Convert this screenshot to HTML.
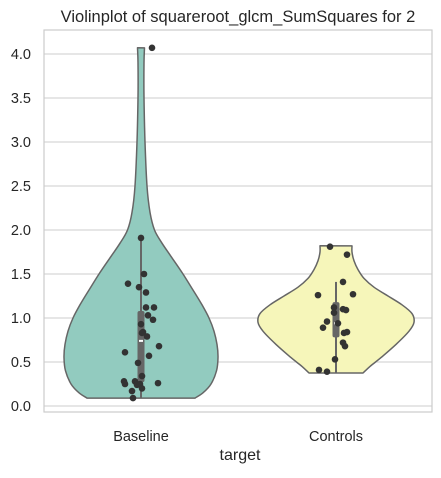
<!DOCTYPE html>
<html><head><meta charset="utf-8"><style>
body{margin:0;background:#fff;font-family:"Liberation Sans",Arial,sans-serif;}
svg text{font-family:"Liberation Sans",Arial,sans-serif;fill:#262626;}
</style></head><body>
<svg id="chart" width="441" height="473" xmlns="http://www.w3.org/2000/svg">
<text x="238" y="22" font-size="16.5" text-anchor="middle">Violinplot of squareroot_glcm_SumSquares for 2</text>
<g id="grid"></g>
<rect x="44" y="30" width="388" height="382" fill="none" stroke="#cccccc" stroke-width="1.2"/>
<g id="marks"></g>
<text x="240" y="460" font-size="16" text-anchor="middle">target</text>
</svg>
<script>
const categories=["Baseline","Controls"];
const yTicks=[0,0.5,1,1.5,2,2.5,3,3.5,4];
const yTickLabels=["0.0","0.5","1.0","1.5","2.0","2.5","3.0","3.5","4.0"];
const fills=["#92cbbf","#f6f6ba"];
// violin outline: [value, half-width in density units]
const baselineDensity=[[0.09,54],[0.15,62],[0.25,70],[0.4,75.5],[0.55,77],[0.7,76],[0.85,73],[1.0,68],[1.15,61],[1.3,53],[1.5,42],[1.7,30],[1.85,21],[2.0,13.5],[2.2,9],[2.5,6],[3.0,4],[3.5,3],[3.9,3],[4.07,3.5]];
const controlsDensity=[[0.375,27],[0.45,34],[0.55,45],[0.7,60],[0.85,73],[0.95,78],[1.05,76],[1.15,66],[1.25,52],[1.35,38],[1.45,28],[1.55,22],[1.65,18],[1.75,16],[1.82,16]];
const baselinePoints=[[4.07,11],[1.91,0],[1.5,3],[1.39,-13],[1.35,-2],[1.29,5],[1.12,5],[1.12,13],[1.03,7],[0.98,12],[0.93,0],[0.84,2],[0.83,1],[0.79,6],[0.68,18],[0.61,-16],[0.57,8],[0.49,-3],[0.34,1],[0.28,-17],[0.25,-16],[0.28,-6],[0.24,-4],[0.25,-1],[0.2,1],[0.26,17],[0.17,-9],[0.09,-8]];
const controlsPoints=[[1.81,-6],[1.72,11],[1.41,7],[1.26,-18],[1.27,17],[1.12,-2],[1.1,7],[1.09,10],[1.06,-2],[0.96,-9],[0.94,2],[0.89,-13],[0.84,11],[0.83,8],[0.72,7],[0.68,9],[0.53,-1],[0.41,-17],[0.39,-9]];
const baselineBox=[0.09,0.27,0.74,1.08,1.91];
const controlsBox=[0.375,0.78,0.94,1.18,1.41];
const densities=[baselineDensity,controlsDensity];
const points=[baselinePoints,controlsPoints];
const boxes=[baselineBox,controlsBox];

const NS="http://www.w3.org/2000/svg";
const y=v=>406-88*v;
const xc=i=>141+195*i;
function mk(tag,attrs,parent){const e=document.createElementNS(NS,tag);for(const k in attrs)e.setAttribute(k,attrs[k]);parent.appendChild(e);return e;}
function smooth(pts){
  let s='';
  for(let k=0;k<pts.length-1;k++){
    const p0=pts[Math.max(0,k-1)],p1=pts[k],p2=pts[k+1],p3=pts[Math.min(pts.length-1,k+2)];
    const c1=[p1[0]+(p2[0]-p0[0])/6,p1[1]+(p2[1]-p0[1])/6];
    const c2=[p2[0]-(p3[0]-p1[0])/6,p2[1]-(p3[1]-p1[1])/6];
    s+=' C'+c1[0].toFixed(1)+','+c1[1].toFixed(1)+' '+c2[0].toFixed(1)+','+c2[1].toFixed(1)+' '+p2[0].toFixed(1)+','+p2[1].toFixed(1);
  }
  return s;
}
const grid=document.getElementById('grid'),marks=document.getElementById('marks'),svg=document.getElementById('chart');
yTicks.forEach((t,i)=>{
  const l=mk('line',{x1:44,x2:432,y1:y(t),y2:y(t),stroke:'#cccccc','stroke-width':1},grid);
  
  
  const tx=mk('text',{x:31,y:y(t)+5,'font-size':14.5,'text-anchor':'end'},svg);
  tx.textContent=yTickLabels[i];
  
  
});
categories.forEach((c,i)=>{
  const tx=mk('text',{x:xc(i),y:441,'font-size':14.5,'text-anchor':'middle'},svg);
  tx.textContent=c;
  
  
  const d=densities[i];
  const left=d.map(q=>[xc(i)-q[1],y(q[0])]);
  const right=d.slice().reverse().map(q=>[xc(i)+q[1],y(q[0])]);
  let p='M'+left[0][0]+','+left[0][1]+smooth(left)+' L'+right[0][0]+','+right[0][1]+smooth(right)+' Z';
  const v=mk('path',{d:p,fill:fills[i],stroke:'#666666','stroke-width':1.5,'stroke-linejoin':'round'},marks);
  
  
  const b=boxes[i];
  const w=mk('line',{x1:xc(i),x2:xc(i),y1:y(b[0]),y2:y(b[4]),stroke:'#666666','stroke-width':2},marks);
  
  
  const bx=mk('rect',{x:xc(i)-3.5,y:y(b[3]),width:7,height:y(b[1])-y(b[3]),fill:'#666666',rx:2},marks);
  
  
  const m=mk('rect',{x:xc(i)-2,y:y(b[2])-1,width:4,height:2,fill:'#ffffff'},marks);
  
  
  points[i].forEach(pt=>{
    const cc=mk('circle',{cx:xc(i)+pt[1],cy:y(pt[0]),r:3.3,fill:'#333333'},marks);
    
    
  });
});
</script>
</body></html>
